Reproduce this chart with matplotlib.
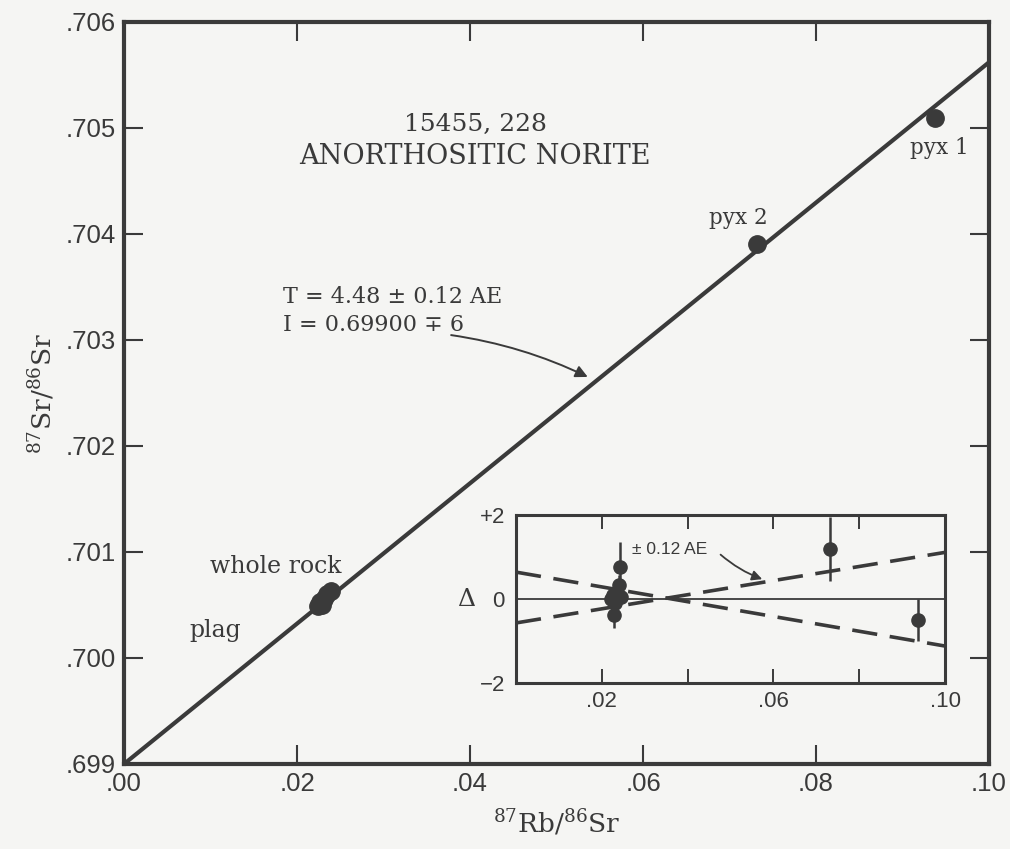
import numpy as np
import matplotlib.pyplot as plt

# isochron data
intercept = 0.69900
slope = 0.0662

rb_sr = [0.0938, 0.0732, 0.0224, 0.0227, 0.0231, 0.0235, 0.0239, 0.0229]
sr_sr = [0.70509, 0.70391, 0.70049, 0.70053, 0.70056, 0.70060, 0.70063, 0.70050]

# residual inset (Delta, in units of 1e-4)
res_x = [0.0733, 0.0936, 0.0242, 0.0228, 0.0240, 0.0225, 0.0235, 0.0222, 0.0230, 0.0245]
res_d = [1.19, -0.51, 0.76, -0.38, 0.33, 0.10, 0.02, 0.00, -0.10, 0.05]
res_e = [0.77, 0.50, 0.60, 0.30, 0.25, 0.0, 0.0, 0.0, 0.0, 0.0]
env_x = [0.0, 0.10]
env_up = [-0.57, 1.11]
env_lo = [0.64, -1.12]

ink = '#3a3a3a'
bg = '#f5f5f3'
plt.rcParams['mathtext.fontset'] = 'dejavuserif'
serif = 'DejaVu Serif'
sans = 'Liberation Sans'

fig = plt.figure(figsize=(10.10, 8.49), dpi=100, facecolor=bg)
ax = fig.add_axes([124/1010, 1-764/849, 865/1010, 742/849], facecolor=bg)

xl = np.array([0, 0.10])
ax.plot(xl, intercept + slope*xl, color=ink, lw=3, solid_capstyle='butt')
ax.plot(rb_sr, sr_sr, 'o', color=ink, ms=12.5, mec=ink)

ax.set_xlim(0, 0.10)
ax.set_ylim(0.699, 0.706)
ax.set_xticks([0, 0.02, 0.04, 0.06, 0.08, 0.10])
ax.set_xticklabels(['.00', '.02', '.04', '.06', '.08', '.10'])
ax.set_yticks(np.arange(0.699, 0.7061, 0.001))
ax.set_yticklabels(['.699', '.700', '.701', '.702', '.703', '.704', '.705', '.706'])
ax.tick_params(direction='in', length=14, width=1.5, color=ink, top=True, right=True,
               labelsize=18.5, labelcolor=ink, pad=6)
for lab in ax.get_xticklabels() + ax.get_yticklabels():
    lab.set_fontfamily(sans)
for s in ax.spines.values():
    s.set_linewidth(3)
    s.set_color(ink)

ax.set_xlabel(r'$^{87}$Rb/$^{86}$Sr', fontsize=19, family=serif, color=ink, labelpad=8)
ax.set_ylabel(r'$^{87}$Sr/$^{86}$Sr', fontsize=19, family=serif, color=ink, labelpad=6)

ax.text(0.0406, 0.70503, '15455, 228', ha='center', va='center', fontsize=18, family=serif, color=ink)
ax.text(0.0406, 0.70473, 'ANORTHOSITIC NORITE', ha='center', va='center', fontsize=19.5, family=serif, color=ink)
ax.text(0.0184, 0.70341, 'T = 4.48 ± 0.12 AE', ha='left', va='center', fontsize=16, family=serif, color=ink)
ax.text(0.0184, 0.70314, 'I = 0.69900 ∓ 6', ha='left', va='center', fontsize=16, family=serif, color=ink)
ax.annotate('', xy=(0.0539, 0.70264), xytext=(0.0375, 0.70305),
            arrowprops=dict(arrowstyle='-|>', color=ink, lw=1.4, mutation_scale=18,
                            connectionstyle='arc3,rad=-0.08'))
ax.text(0.0175, 0.70086, 'whole rock', ha='center', va='center', fontsize=17, family=serif, color=ink)
ax.text(0.0105, 0.70026, 'plag', ha='center', va='center', fontsize=17, family=serif, color=ink)
ax.text(0.0710, 0.70415, 'pyx 2', ha='center', va='center', fontsize=15.5, family=serif, color=ink)
ax.text(0.0943, 0.70481, 'pyx 1', ha='center', va='center', fontsize=15.5, family=serif, color=ink)

# inset residual plot
ins = fig.add_axes([516/1010, 1-683/849, 429/1010, 168/849], facecolor=bg)
ins.axhline(0, color=ink, lw=1.3)
ins.plot(env_x, env_up, color=ink, lw=2.6, dashes=(7, 3.5))
ins.plot(env_x, env_lo, color=ink, lw=2.6, dashes=(7, 3.5))
ins.errorbar(res_x, res_d, yerr=res_e, fmt='o', color=ink, ms=9.5, elinewidth=1.8, capsize=0)
ins.set_xlim(0, 0.10)
ins.set_ylim(-2, 2)
ins.set_xticks([0.02, 0.04, 0.06, 0.08, 0.10])
ins.set_xticklabels(['.02', '', '.06', '', '.10'])
ins.set_yticks([-2, 0, 2])
ins.set_yticklabels(['\u22122', '0', '+2'])
ins.tick_params(axis='x', direction='in', length=10, width=1.4, color=ink, top=True,
                labelsize=16, labelcolor=ink, pad=6)
ins.tick_params(axis='y', length=0, labelsize=16, labelcolor=ink, pad=8)
for lab in ins.get_xticklabels() + ins.get_yticklabels():
    lab.set_fontfamily(sans)
for s in ins.spines.values():
    s.set_linewidth(2.2)
    s.set_color(ink)
ins.set_ylabel('Δ', rotation=0, fontsize=18, family=serif, color=ink, labelpad=10, va='center')
ins.text(0.0358, 1.19, '± 0.12 AE', ha='center', va='center', fontsize=12.5, family=sans, color=ink)
ins.annotate('', xy=(0.0580, 0.45), xytext=(0.0472, 1.10),
             arrowprops=dict(arrowstyle='-|>', color=ink, lw=1.3, mutation_scale=15,
                             connectionstyle='arc3,rad=0.1'))

fig.savefig('out.png', dpi=100, facecolor=bg)
